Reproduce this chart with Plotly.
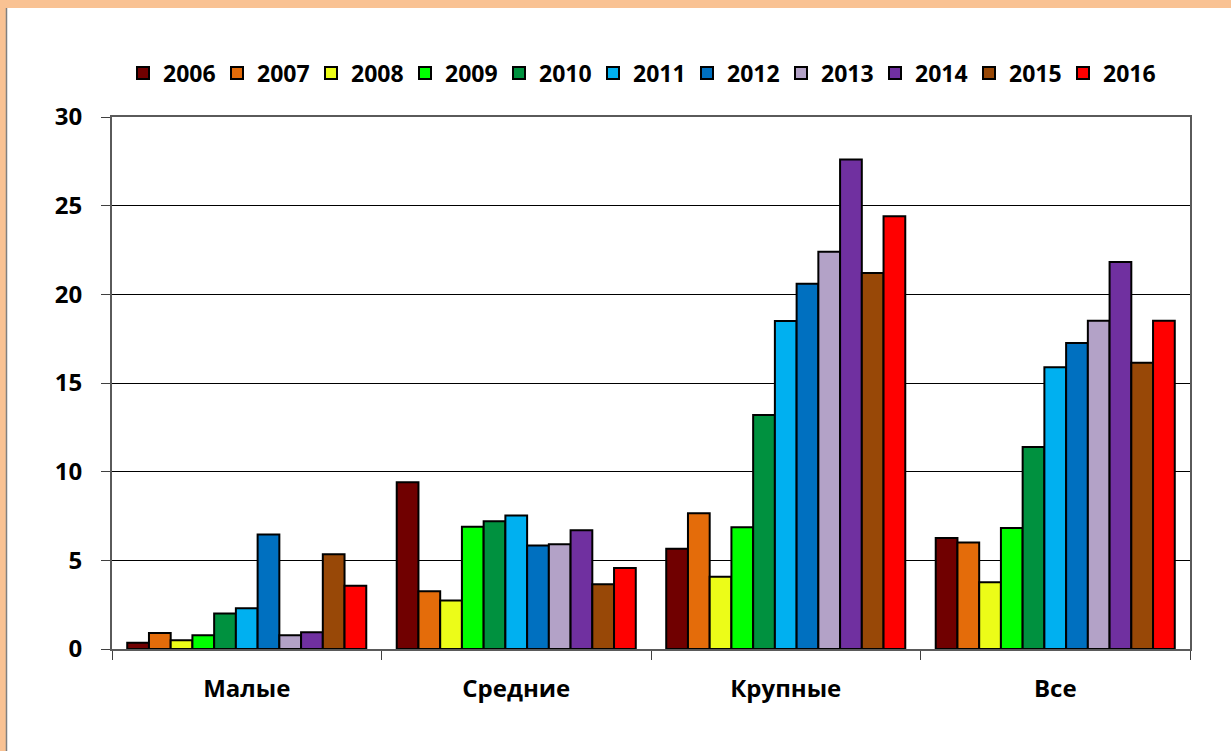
import plotly.graph_objects as go

categories = ["Малые", "Средние", "Крупные", "Все"]
years = ["2006", "2007", "2008", "2009", "2010", "2011", "2012", "2013", "2014", "2015", "2016"]

# values per year: [Малые, Средние, Крупные, Все]
v2006 = [0.35, 9.4, 5.66, 6.26]
v2007 = [0.9, 3.25, 7.65, 6.0]
v2008 = [0.5, 2.73, 4.07, 3.77]
v2009 = [0.78, 6.9, 6.86, 6.82]
v2010 = [2.0, 7.2, 13.2, 11.39]
v2011 = [2.3, 7.53, 18.5, 15.89]
v2012 = [6.45, 5.83, 20.6, 17.25]
v2013 = [0.78, 5.9, 22.4, 18.51]
v2014 = [0.95, 6.7, 27.6, 21.83]
v2015 = [5.35, 3.65, 21.2, 16.14]
v2016 = [3.57, 4.57, 24.4, 18.51]
series = [v2006, v2007, v2008, v2009, v2010, v2011, v2012, v2013, v2014, v2015, v2016]

colors = ["#700000", "#E46C0A", "#ECFC18", "#00FF00", "#00913F", "#00B0F0",
          "#0070C0", "#B3A2C7", "#7030A0", "#984807", "#FF0000"]

y_ticks = [0, 5, 10, 15, 20, 25, 30]

fig = go.Figure()
for yr, vals, col in zip(years, series, colors):
    fig.add_trace(go.Bar(
        x=categories, y=vals, name=yr,
        marker=dict(color=col, line=dict(color="#000000", width=2)),
    ))

W, H = 1231, 751
L, R, T, B = 112, 41, 117, 102
pw = W - L - R
ph = H - T - B

def px_x(p):
    return (p - L) / pw

def px_y(p):
    return (H - B - p) / ph

shapes = [
    # peach frame top
    dict(type="rect", xref="paper", yref="paper", x0=px_x(0), x1=px_x(W), y0=px_y(8), y1=px_y(0),
         fillcolor="#F9C293", line=dict(width=0), layer="below"),
    # peach frame left
    dict(type="rect", xref="paper", yref="paper", x0=px_x(0), x1=px_x(6), y0=px_y(H), y1=px_y(0),
         fillcolor="#F9C293", line=dict(width=0), layer="below"),
    # thin grey line beside frame
    dict(type="line", xref="paper", yref="paper", x0=px_x(6.5), x1=px_x(6.5), y0=px_y(H), y1=px_y(8),
         line=dict(color="#7F7F7F", width=1.5)),
]

fig.update_layout(
    width=W, height=H,
    margin=dict(l=L, r=R, t=T, b=B, pad=0),
    paper_bgcolor="white", plot_bgcolor="white",
    font=dict(family="Open Sans, Liberation Sans, sans-serif", size=23, color="black", weight="bold"),
    barmode="group", bargap=0.113, bargroupgap=0,
    showlegend=True,
    legend=dict(orientation="h", x=px_x(640), xanchor="center", y=px_y(73), yanchor="middle",
                font=dict(size=23, weight="bold"), itemwidth=30, tracegroupgap=0,
                entrywidth=49, entrywidthmode="pixels",
                bgcolor="rgba(0,0,0,0)"),
    shapes=shapes,
    xaxis=dict(type="category", tickson="boundaries", ticks="outside", ticklen=9, tickcolor="#404040",
               showline=True, linecolor="#5A5A5A", linewidth=2, mirror=True, showgrid=False,
               ticklabelstandoff=17, tickfont=dict(size=24, weight="bold")),
    yaxis=dict(range=[0, 30], tickvals=y_ticks, ticktext=[str(t) for t in y_ticks],
               ticks="outside", ticklen=9, tickcolor="#404040",
               showline=True, linecolor="#5A5A5A", linewidth=2, mirror=True,
               showgrid=True, gridcolor="#000000", gridwidth=1, zeroline=False,
               ticklabelstandoff=14, tickfont=dict(size=24, weight="bold")),
)

fig.write_html("out.html", config={"displayModeBar": False},
               post_script="document.body.style.margin='0';document.body.style.overflow='hidden';")
